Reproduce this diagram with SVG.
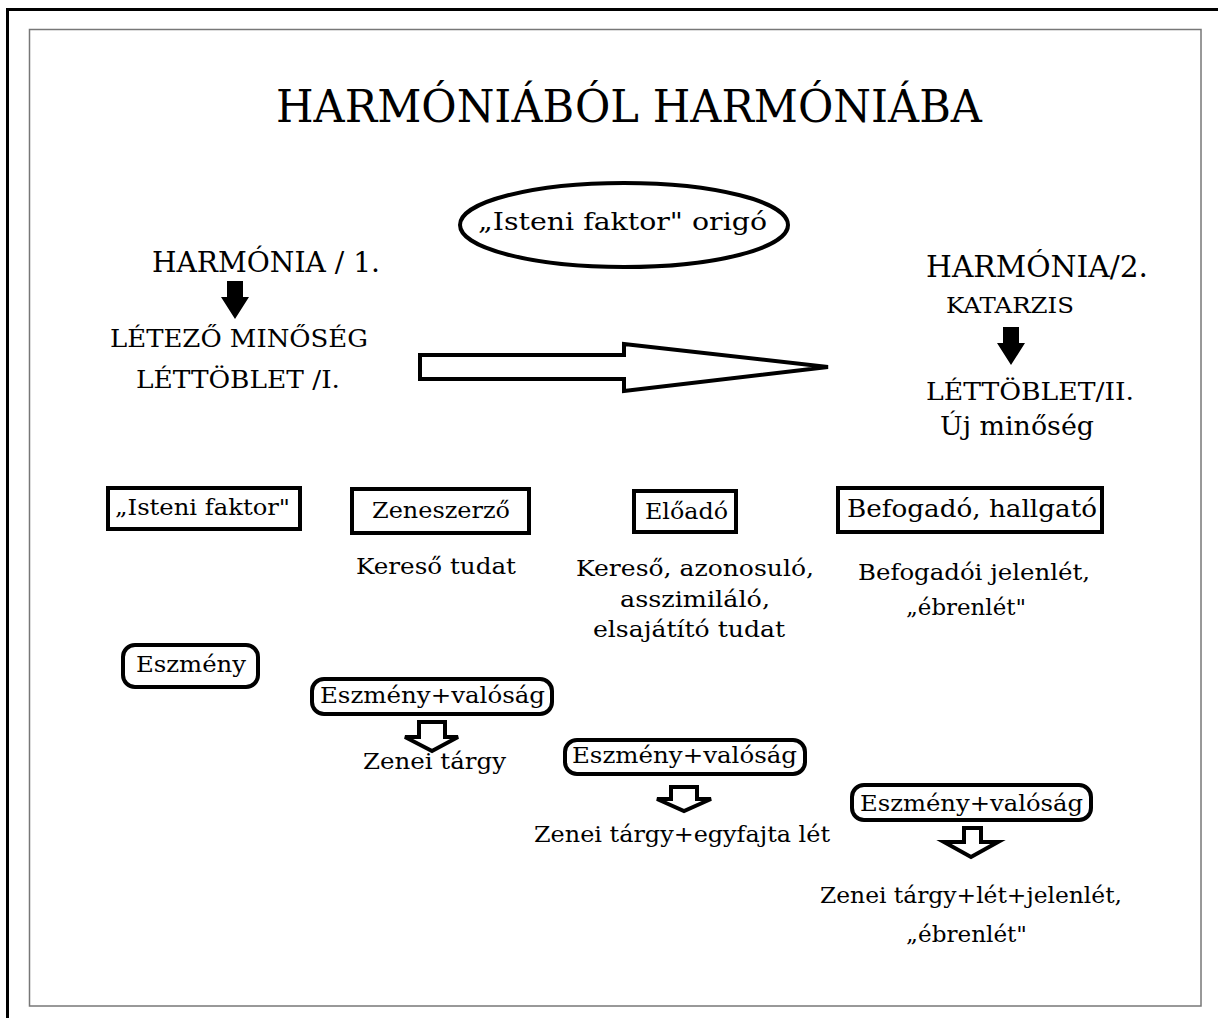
<svg xmlns="http://www.w3.org/2000/svg" width="1218" height="1018" viewBox="0 0 1218 1018">
<style>
text{font-family:"DejaVu Serif","Liberation Serif",serif;fill:#000}
.box{fill:#fff;stroke:#000;stroke-width:4}
.rbox{fill:#fff;stroke:#000;stroke-width:4}
.hollow{fill:#fff;stroke:#000;stroke-width:4;stroke-linejoin:miter}
.solid{fill:#000;stroke:none}
</style>
<rect x="0" y="0" width="1218" height="1018" fill="#fff"/>
<path d="M7.5,1018 V9.5 H1218" fill="none" stroke="#000" stroke-width="3"/>
<rect x="29.5" y="29.5" width="1171.5" height="976.5" fill="none" stroke="#777" stroke-width="1.5"/>

<g id="title"><text x="276" y="122" font-size="44" textLength="706" lengthAdjust="spacingAndGlyphs">HARMÓNIÁBÓL HARMÓNIÁBA</text></g>

<g id="origo">
<ellipse cx="624" cy="225" rx="164" ry="42" fill="#fff" stroke="#000" stroke-width="4"/>
<text x="478" y="230" font-size="25" textLength="289" lengthAdjust="spacingAndGlyphs">„Isteni faktor" origó</text>
</g>

<g id="harmonia1">
<text x="152" y="272" font-size="28" textLength="228" lengthAdjust="spacingAndGlyphs">HARMÓNIA / 1.</text>
<text x="110" y="347" font-size="24" textLength="258" lengthAdjust="spacingAndGlyphs">LÉTEZŐ MINŐSÉG</text>
<text x="136" y="388" font-size="25" textLength="204" lengthAdjust="spacingAndGlyphs">LÉTTÖBLET /I.</text>
</g>

<g id="harmonia2">
<text x="926" y="277" font-size="29" textLength="222" lengthAdjust="spacingAndGlyphs">HARMÓNIA/2.</text>
<text x="946" y="313" font-size="22" textLength="128" lengthAdjust="spacingAndGlyphs">KATARZIS</text>
<text x="926" y="400" font-size="24" textLength="208" lengthAdjust="spacingAndGlyphs">LÉTTÖBLET/II.</text>
<text x="940" y="435" font-size="26" textLength="154" lengthAdjust="spacingAndGlyphs">Új minőség</text>
</g>

<g id="isteni">
<rect class="box" x="108" y="488" width="192" height="41"/>
<text x="115" y="515" font-size="23" textLength="175" lengthAdjust="spacingAndGlyphs">„Isteni faktor"</text>
</g>
<g id="zeneszerzo">
<rect class="box" x="352" y="489" width="177" height="44"/>
<text x="372" y="518" font-size="23" textLength="138" lengthAdjust="spacingAndGlyphs">Zeneszerző</text>
<text x="356" y="574" font-size="23" textLength="160" lengthAdjust="spacingAndGlyphs">Kereső tudat</text>
</g>
<g id="eloado">
<rect class="box" x="634" y="491" width="102" height="41"/>
<text x="645" y="519" font-size="23" textLength="83" lengthAdjust="spacingAndGlyphs">Előadó</text>
<text x="576" y="576" font-size="23" textLength="238" lengthAdjust="spacingAndGlyphs">Kereső, azonosuló,</text>
<text x="620" y="607" font-size="23" textLength="150" lengthAdjust="spacingAndGlyphs">asszimiláló,</text>
<text x="593" y="637" font-size="23" textLength="192" lengthAdjust="spacingAndGlyphs">elsajátító tudat</text>
</g>
<g id="befogado">
<rect class="box" x="838" y="488" width="264" height="44"/>
<text x="847" y="517" font-size="24" textLength="250" lengthAdjust="spacingAndGlyphs">Befogadó, hallgató</text>
<text x="858" y="580" font-size="23" textLength="232" lengthAdjust="spacingAndGlyphs">Befogadói jelenlét,</text>
<text x="906" y="615" font-size="23" textLength="120" lengthAdjust="spacingAndGlyphs">„ébrenlét"</text>
</g>

<g id="eszmeny">
<rect class="rbox" x="123" y="645" width="135" height="42" rx="12"/>
<text x="136" y="672" font-size="23" textLength="110" lengthAdjust="spacingAndGlyphs">Eszmény</text>
</g>
<g id="ev1">
<rect class="rbox" x="312" y="679" width="240" height="35" rx="12"/>
<text x="320" y="703" font-size="23" textLength="225" lengthAdjust="spacingAndGlyphs">Eszmény+valóság</text>
</g>
<g id="ev2">
<rect class="rbox" x="565" y="740" width="240" height="34" rx="12"/>
<text x="572" y="763" font-size="23" textLength="225" lengthAdjust="spacingAndGlyphs">Eszmény+valóság</text>
</g>
<g id="ev3">
<rect class="rbox" x="852" y="785" width="239" height="35" rx="12"/>
<text x="860" y="811" font-size="23" textLength="223" lengthAdjust="spacingAndGlyphs">Eszmény+valóság</text>
</g>

<g id="connectors">
<polygon class="hollow" points="420,355 624,355 624,344 828,367 624,391 624,379 420,379"/>
<polygon class="solid" points="227,281 243,281 243,297 249,297 235,319 221,297 227,297"/>
<polygon class="solid" points="1003,327 1019,327 1019,343 1025,343 1011,365 997,343 1003,343"/>
<polygon class="hollow" points="419,722 445,722 445,737 458,737 432,751 405,737 419,737"/>
<polygon class="hollow" points="671,787 697,787 697,799 711,799 684,811 657,799 671,799"/>
<polygon class="hollow" points="964,828 981,828 981,842 998,842 971,857 944,842 964,842"/>
</g>

<g id="results">
<text x="363" y="769" font-size="23" textLength="143" lengthAdjust="spacingAndGlyphs">Zenei tárgy</text>
<text x="534" y="842" font-size="23" textLength="296" lengthAdjust="spacingAndGlyphs">Zenei tárgy+egyfajta lét</text>
<text x="820" y="903" font-size="23" textLength="302" lengthAdjust="spacingAndGlyphs">Zenei tárgy+lét+jelenlét,</text>
<text x="906" y="942" font-size="23" textLength="121" lengthAdjust="spacingAndGlyphs">„ébrenlét"</text>
</g>
</svg>
